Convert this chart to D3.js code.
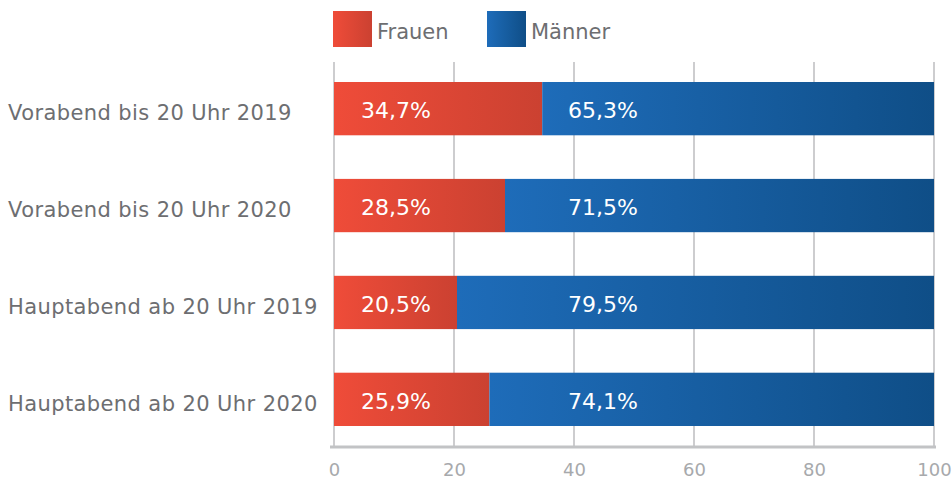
<!DOCTYPE html>
<html>
<head>
<meta charset="utf-8">
<script src="https://cdn.jsdelivr.net/npm/d3@7"></script>
<style>
  body { margin: 0; background: #fff; }
  text { font-family: "DejaVu Sans", sans-serif; }
</style>
</head>
<body>
<script>
var categories = ["Vorabend bis 20 Uhr 2019", "Vorabend bis 20 Uhr 2020", "Hauptabend ab 20 Uhr 2019", "Hauptabend ab 20 Uhr 2020"];
var frauen = [34.7, 28.5, 20.5, 25.9];
var maenner = [65.3, 71.5, 79.5, 74.1];
var seriesNames = ["Frauen", "Männer"];
var xTicks = [0, 20, 40, 60, 80, 100];

var width = 952, height = 481;

var svg = d3.select("body").append("svg").attr("width", width).attr("height", height);

var defs = svg.append("defs");
function addGrad(id, c1, c2) {
    var g = defs.append("linearGradient").attr("id", id)
        .attr("x1", "0%").attr("x2", "100%").attr("y1", "0%").attr("y2", "0%");
    g.append("stop").attr("offset", "0%").attr("stop-color", c1);
    g.append("stop").attr("offset", "100%").attr("stop-color", c2);
}
addGrad("gRed", "#ef4c39", "#cb4131");
addGrad("gBlue", "#1e6cb9", "#0f4e87");

var xScale = d3.scaleLinear().domain([0, 100]).range([334, 934]);
var yScale = d3.scaleBand().domain(categories).range([82, 426]).paddingInner(0.45).paddingOuter(0);

// grid lines
svg.selectAll(".grid").data(xTicks).enter().append("line")
    .attr("x1", function (d) { return xScale(d); })
    .attr("x2", function (d) { return xScale(d); })
    .attr("y1", 62).attr("y2", 447)
    .attr("stroke", "#cdcdcf").attr("stroke-width", 2);

// bars
var rows = categories.map(function (c, i) { return {cat: c, f: frauen[i], m: maenner[i]}; });

svg.selectAll(".barF").data(rows).enter().append("rect")
    .attr("x", xScale(0))
    .attr("y", function (d) { return yScale(d.cat); })
    .attr("width", function (d) { return xScale(d.f) - xScale(0); })
    .attr("height", yScale.bandwidth())
    .attr("fill", "url(#gRed)");

svg.selectAll(".barM").data(rows).enter().append("rect")
    .attr("x", function (d) { return xScale(d.f); })
    .attr("y", function (d) { return yScale(d.cat); })
    .attr("width", function (d) { return xScale(d.f + d.m) - xScale(d.f); })
    .attr("height", yScale.bandwidth())
    .attr("fill", "url(#gBlue)");

function fmt(v) { return v.toFixed(1).replace(".", ",") + "%"; }

svg.selectAll(".lblF").data(rows).enter().append("text")
    .attr("x", xScale(0) + 27)
    .attr("y", function (d) { return yScale(d.cat) + yScale.bandwidth() / 2 + 1.5; })
    .attr("dy", "0.35em")
    .attr("fill", "#fff").attr("font-size", 22)
    .text(function (d) { return fmt(d.f); });

svg.selectAll(".lblM").data(rows).enter().append("text")
    .attr("x", xScale(39))
    .attr("y", function (d) { return yScale(d.cat) + yScale.bandwidth() / 2 + 1.5; })
    .attr("dy", "0.35em")
    .attr("fill", "#fff").attr("font-size", 22)
    .text(function (d) { return fmt(d.m); });

// category labels
svg.selectAll(".cat").data(categories).enter().append("text")
    .attr("x", 8)
    .attr("y", function (d) { return yScale(d) + yScale.bandwidth() / 2 + 4; })
    .attr("dy", "0.35em")
    .attr("fill", "#6d6e71").attr("font-size", 21)
    .attr("letter-spacing", 0.4)
    .text(function (d) { return d; });

// axis
var xAxis = d3.axisBottom(xScale).tickValues(xTicks).tickSize(0).tickPadding(16);
var ax = svg.append("g").attr("transform", "translate(0,447)").call(xAxis);
ax.select(".domain").remove();
ax.selectAll("text").attr("fill", "#a7a9ac").attr("font-size", 18)
    .style("font-family", "DejaVu Sans, sans-serif");
svg.append("line").attr("x1", 330).attr("x2", 936).attr("y1", 447).attr("y2", 447)
    .attr("stroke", "#c2c3c5").attr("stroke-width", 3);

// legend
var legend = svg.selectAll(".leg").data(seriesNames).enter().append("g")
    .attr("transform", function (d, i) { return "translate(" + (333 + i * 154) + ",11)"; });
legend.append("rect").attr("width", 39).attr("height", 36)
    .attr("fill", function (d, i) { return i === 0 ? "url(#gRed)" : "url(#gBlue)"; });
legend.append("text").attr("x", 44).attr("y", 21).attr("dy", "0.35em")
    .attr("fill", "#6d6e71").attr("font-size", 21)
    .text(function (d) { return d; });
</script>
</body>
</html>
